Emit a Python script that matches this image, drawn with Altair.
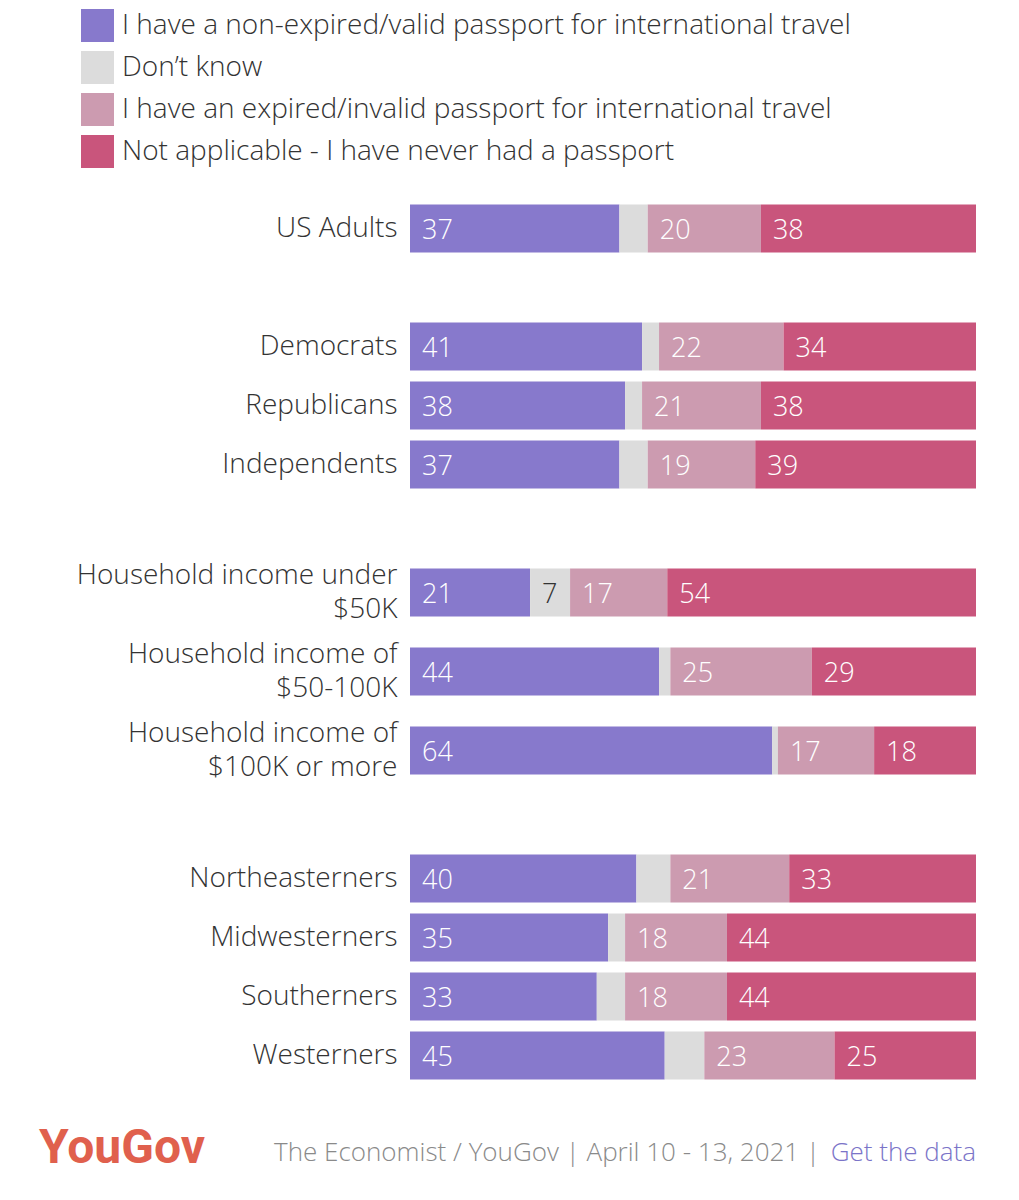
import altair as alt
import pandas as pd

# Survey groups (a "|" splits an axis label over two lines) and the block each belongs to
groups = [
    "US Adults",
    "Democrats", "Republicans", "Independents",
    "Household income under|$50K", "Household income of|$50-100K", "Household income of|$100K or more",
    "Northeasterners", "Midwesterners", "Southerners", "Westerners",
]
blocks = [0, 1, 1, 1, 2, 2, 2, 3, 3, 3, 3]

answers = [
    "I have a non-expired/valid passport for international travel",
    "Don\u2019t know",
    "I have an expired/invalid passport for international travel",
    "Not applicable - I have never had a passport",
]
colors = ["#8779cc", "#dcdcdc", "#cc9bb0", "#c9557c"]

# Percentages per group
valid = [37, 41, 38, 37, 21, 44, 64, 40, 35, 33, 45]
dont_know = [5, 3, 3, 5, 7, 2, 1, 6, 3, 5, 7]
expired = [20, 22, 21, 19, 17, 25, 17, 21, 18, 18, 23]
never = [38, 34, 38, 39, 54, 29, 18, 33, 44, 44, 25]
# "Don't know" shares that carry a printed number
dont_know_printed = [False, False, False, False, True, False, False, False, False, False, False]

brand = "YouGov"
source_text = "The Economist / YouGov | April 10 - 13, 2021 | "
link_text = "Get the data"

FONT = "Open Sans"
WEIGHT = 300
TEXT = "#333333"

rows = []
series = [valid, dont_know, expired, never]
for i, g in enumerate(groups):
    for k, ans in enumerate(answers):
        v = series[k][i]
        shown = (k != 1) or dont_know_printed[i]
        rows.append(dict(group=g, block=blocks[i], answer=ans, order=k,
                         value=v, label=str(v) if shown else ""))
df = pd.DataFrame(rows)

legend = alt.Legend(
    title=None, orient="none", legendX=-329, legendY=-190, direction="vertical",
    symbolType="square", symbolSize=1089, symbolStrokeWidth=0,
    labelFont=FONT, labelFontWeight=WEIGHT, labelFontSize=28, labelColor=TEXT,
    labelLimit=1000, rowPadding=9, labelOffset=8,
)


def block_chart(b, height, pad_inner, label_shift=0):
    sub = df[df.block == b]
    order = [g for g, bb in zip(groups, blocks) if bb == b]
    base = alt.Chart(sub).transform_stack(
        stack="value", groupby=["group"], as_=["x0", "x1"],
        offset="normalize", sort=[alt.SortField("order")],
    )
    y = alt.Y(
        "group:N", sort=order, title=None,
        scale=alt.Scale(paddingInner=pad_inner, paddingOuter=pad_inner / 2),
        axis=alt.Axis(
            labelExpr="split(datum.label, '|')", labelFont=FONT, labelFontWeight=WEIGHT,
            labelFontSize=28, labelColor=TEXT, labelPadding=13, ticks=False,
            domain=False, labelLimit=600, labelLineHeight=34, labelOffset=label_shift,
            minExtent=400, maxExtent=400,
        ),
    )
    x = alt.X("x0:Q", axis=None, scale=alt.Scale(domain=[0, 1]))
    bars = base.mark_bar().encode(
        x=x, x2="x1:Q", y=y,
        color=alt.Color("answer:N", scale=alt.Scale(domain=answers, range=colors), legend=legend),
    )
    labels = base.mark_text(align="left", baseline="middle", dx=12, dy=2,
                            font=FONT, fontWeight=WEIGHT, fontSize=27).encode(
        x=x, y=alt.Y("group:N", sort=order),
        text="label:N",
        color=alt.condition("datum.order == 1", alt.value(TEXT), alt.value("white")),
    )
    return alt.layer(bars, labels).properties(width=566, height=height)


top = block_chart(0, 59, 11 / 59)
party = block_chart(1, 177, 11 / 59)
income = block_chart(2, 237, 31 / 79, label_shift=-17)
region = block_chart(3, 236, 11 / 59)

footer_brand = alt.Chart(pd.DataFrame({"t": [brand]})).mark_text(
    align="left", baseline="alphabetic", font="Roboto", fontWeight="bold",
    fontSize=48, color="#e0604d",
).encode(text="t:N", x=alt.value(-371), y=alt.value(314))
footer_source = alt.Chart(pd.DataFrame({"t": [source_text]})).mark_text(
    align="right", baseline="alphabetic", font=FONT, fontWeight=WEIGHT,
    fontSize=26, color="#8a8a8a",
).encode(text="t:N", x=alt.value(410), y=alt.value(312))
footer_link = alt.Chart(pd.DataFrame({"t": [link_text]})).mark_text(
    align="right", baseline="alphabetic", font=FONT, fontWeight=WEIGHT,
    fontSize=26, color="#7b74c8",
).encode(text="t:N", x=alt.value(566), y=alt.value(312))

region = alt.layer(region, footer_brand, footer_source, footer_link)

chart = (
    alt.vconcat(top, party, income, region, spacing=59, bounds="flush")
    .properties(padding={"left": 10, "top": 9, "right": 10, "bottom": 10})
    .configure(font=FONT)
    .configure_view(strokeWidth=0)
)

chart.save("out.html", embed_options={"renderer": "svg", "actions": False})
